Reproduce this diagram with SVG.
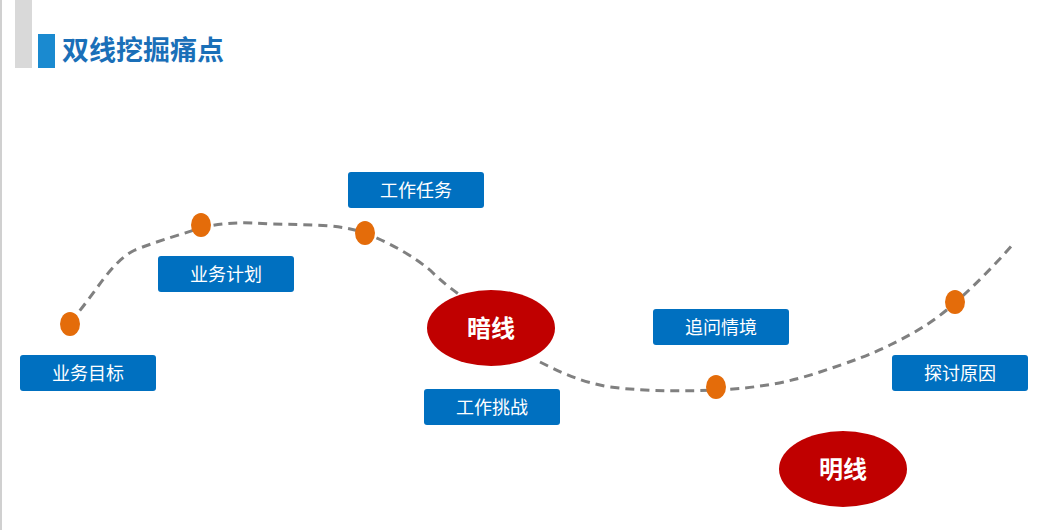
<svg xmlns="http://www.w3.org/2000/svg" width="1049" height="530" viewBox="0 0 1049 530">
<style>
.box{fill:#0070c0}
.bt{fill:#fff;font-family:"Noto Sans CJK SC",sans-serif;font-size:18px;text-anchor:middle}
.dot{fill:#e46c0a}
.el{fill:#c00000}
.et{fill:#fff;font-family:"Noto Sans CJK SC",sans-serif;font-size:24px;font-weight:bold;text-anchor:middle}
</style>
<rect width="1049" height="530" fill="#fff"/>
<rect x="0" y="0" width="2" height="530" fill="#d0d0d0"/>
<rect x="15" y="0" width="17" height="68" fill="#d9d9d9"/>
<rect x="38" y="34" width="17" height="34" fill="#1a8ad0"/>
<text x="62" y="60" font-family="Noto Sans CJK SC,sans-serif" font-size="27" font-weight="bold" fill="#1a6fb8">双线挖掘痛点</text>
<g id="connectors">
<path d="M70,322 C95,295 110,262 135,250 C160,240 180,235 200,228 C225,222 245,222 270,224 C310,225 340,224 365,233 C395,245 415,258 430,270 C440,280 450,288 460,295 M540,362 C560,372 580,382 610,387 C650,392 690,391 716,390 C760,388 790,382 820,372 C850,362 870,355 890,345 C910,335 930,325 955,303 C975,285 995,265 1015,242" fill="none" stroke="#808080" stroke-width="3" stroke-dasharray="9,6"/>
</g>
<g id="dots">
<ellipse class="dot" cx="70" cy="324" rx="10" ry="12"/>
<ellipse class="dot" cx="201" cy="225" rx="10" ry="12"/>
<ellipse class="dot" cx="365" cy="233" rx="10" ry="12"/>
<ellipse class="dot" cx="716" cy="387" rx="10" ry="12"/>
<ellipse class="dot" cx="955" cy="302" rx="10" ry="12"/>
</g>
<g id="n1"><rect class="box" x="20" y="355" width="136" height="36" rx="3"/><text class="bt" x="88" y="380">业务目标</text></g>
<g id="n2"><rect class="box" x="158" y="256" width="136" height="36" rx="3"/><text class="bt" x="226" y="281">业务计划</text></g>
<g id="n3"><rect class="box" x="348" y="172" width="136" height="36" rx="3"/><text class="bt" x="416" y="197">工作任务</text></g>
<g id="n4"><rect class="box" x="424" y="389" width="136" height="36" rx="3"/><text class="bt" x="492" y="414">工作挑战</text></g>
<g id="n5"><rect class="box" x="653" y="309" width="136" height="36" rx="3"/><text class="bt" x="721" y="334">追问情境</text></g>
<g id="n6"><rect class="box" x="892" y="355" width="136" height="36" rx="3"/><text class="bt" x="960" y="380">探讨原因</text></g>
<g id="dark"><ellipse class="el" cx="491" cy="328" rx="64" ry="38"/><text class="et" x="491" y="337">暗线</text></g>
<g id="light"><ellipse class="el" cx="843" cy="469" rx="64" ry="38"/><text class="et" x="843" y="478">明线</text></g>
</svg>
